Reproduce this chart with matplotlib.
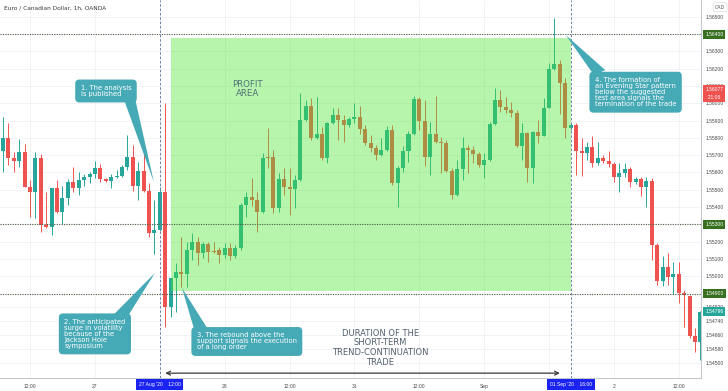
"""
EUR/CAD 1h candlestick chart with a profit zone and trade annotations.
"""
import numpy as np
import matplotlib
import matplotlib.pyplot as plt
import matplotlib.transforms as mtransforms
from matplotlib.patches import Rectangle, Polygon

plt.rcParams['font.family'] = ['DejaVu Sans']

# --- data: hourly candles, 26 Aug 2020 07:00 -> 02 Sep 2020 ---
opens = [1.55724, 1.55800, 1.55685, 1.55668, 1.55720, 1.55517, 1.55485, 1.55682, 1.55296, 1.55286,
         1.55508, 1.55373, 1.55454, 1.55546, 1.55508, 1.55556, 1.55575, 1.55591, 1.55624, 1.55562,
         1.55550, 1.55571, 1.55579, 1.55630, 1.55691, 1.55523, 1.55610, 1.55494, 1.55248, 1.55267,
         1.55488, 1.54821, 1.54988, 1.55026, 1.55013, 1.55152, 1.55199, 1.55133, 1.55186, 1.55148,
         1.55152, 1.55123, 1.55161, 1.55119, 1.55161, 1.55412, 1.55456, 1.55441, 1.55373, 1.55691,
         1.55691, 1.55392, 1.55562, 1.55517, 1.55504, 1.55556, 1.55903, 1.55984, 1.55797, 1.55820,
         1.55682, 1.55884, 1.55932, 1.55903, 1.55874, 1.55907, 1.55921, 1.55849, 1.55772, 1.55739,
         1.55701, 1.55730, 1.55845, 1.55537, 1.55624, 1.55726, 1.55820, 1.56023, 1.55899, 1.55691,
         1.55822, 1.55777, 1.55772, 1.55610, 1.55469, 1.55618, 1.55743, 1.55730, 1.55707, 1.55643,
         1.55672, 1.55878, 1.56019, 1.55980, 1.55961, 1.55942, 1.55753, 1.55829, 1.55624, 1.55835,
         1.55812, 1.55974, 1.56196, 1.56225, 1.56115, 1.55855, 1.55874, 1.55726, 1.55711, 1.55745,
         1.55653, 1.55682, 1.55668, 1.55649, 1.55575, 1.55595, 1.55618, 1.55546, 1.55562, 1.55514,
         1.55550, 1.55180, 1.54974, 1.55051, 1.54997, 1.55011, 1.54901, 1.54886, 1.54655, 1.54622]
highs = [1.55921, 1.55886, 1.55720, 1.55793, 1.55764, 1.55556, 1.55717, 1.55707, 1.55488, 1.55510,
         1.55556, 1.55521, 1.55565, 1.55633, 1.55604, 1.55590, 1.55604, 1.55666, 1.55647, 1.55568,
         1.55591, 1.55614, 1.55643, 1.55816, 1.55758, 1.55662, 1.55720, 1.55537, 1.55441, 1.55517,
         1.55999, 1.54990, 1.55078, 1.55226, 1.55199, 1.55250, 1.55229, 1.55199, 1.55199, 1.55199,
         1.55171, 1.55190, 1.55190, 1.55180, 1.55423, 1.55488, 1.55566, 1.55488, 1.55711, 1.55855,
         1.55730, 1.55595, 1.55624, 1.55624, 1.55585, 1.56061, 1.56019, 1.56029, 1.56035, 1.55864,
         1.55890, 1.55971, 1.55971, 1.55932, 1.55921, 1.56003, 1.55984, 1.55874, 1.55816, 1.55758,
         1.55797, 1.55868, 1.55874, 1.55637, 1.55753, 1.55839, 1.56042, 1.56038, 1.56019, 1.55893,
         1.56042, 1.55803, 1.55787, 1.55624, 1.55672, 1.55803, 1.55758, 1.55753, 1.55720, 1.55712,
         1.55893, 1.56086, 1.56076, 1.56035, 1.56009, 1.55961, 1.55884, 1.55835, 1.55841, 1.55903,
         1.56029, 1.56231, 1.56491, 1.56250, 1.56144, 1.55884, 1.55884, 1.55797, 1.55777, 1.55809,
         1.55777, 1.55701, 1.55726, 1.55662, 1.55653, 1.55653, 1.55633, 1.55575, 1.55575, 1.55571,
         1.55568, 1.55192, 1.55117, 1.55132, 1.55084, 1.55084, 1.54920, 1.54892, 1.54699, 1.54799]
lows = [1.55604, 1.55643, 1.55604, 1.55633, 1.55515, 1.55344, 1.55335, 1.55257, 1.55277, 1.55238,
        1.55364, 1.55302, 1.55412, 1.55488, 1.55469, 1.55521, 1.55537, 1.55568, 1.55546, 1.55546,
        1.55513, 1.55568, 1.55574, 1.55614, 1.55494, 1.55441, 1.55488, 1.55229, 1.55129, 1.55260,
        1.54705, 1.54767, 1.54795, 1.54938, 1.54939, 1.55094, 1.55065, 1.55104, 1.55084, 1.55135,
        1.55075, 1.55104, 1.55094, 1.55105, 1.55152, 1.55344, 1.55406, 1.55257, 1.55364, 1.55624,
        1.55364, 1.55373, 1.55469, 1.55354, 1.55392, 1.55550, 1.55897, 1.55787, 1.55793, 1.55672,
        1.55653, 1.55880, 1.55787, 1.55777, 1.55862, 1.55886, 1.55822, 1.55758, 1.55720, 1.55672,
        1.55695, 1.55724, 1.55530, 1.55398, 1.55604, 1.55662, 1.55816, 1.55845, 1.55637, 1.55585,
        1.55770, 1.55598, 1.55604, 1.55444, 1.55463, 1.55556, 1.55595, 1.55653, 1.55633, 1.55566,
        1.55668, 1.55874, 1.55951, 1.55944, 1.55922, 1.55749, 1.55672, 1.55546, 1.55540, 1.55768,
        1.55810, 1.55972, 1.56192, 1.55938, 1.55797, 1.55845, 1.55585, 1.55582, 1.55672, 1.55633,
        1.55643, 1.55653, 1.55633, 1.55546, 1.55488, 1.55575, 1.55517, 1.55533, 1.55463, 1.55401,
        1.55094, 1.54949, 1.54943, 1.54949, 1.54897, 1.54847, 1.54707, 1.54642, 1.54564, 1.54515]
closes = [1.55800, 1.55682, 1.55668, 1.55720, 1.55517, 1.55485, 1.55682, 1.55296, 1.55286, 1.55508,
          1.55373, 1.55454, 1.55546, 1.55508, 1.55556, 1.55575, 1.55591, 1.55624, 1.55562, 1.55550,
          1.55571, 1.55579, 1.55630, 1.55691, 1.55523, 1.55610, 1.55494, 1.55248, 1.55267, 1.55488,
          1.54821, 1.54988, 1.55026, 1.55013, 1.55152, 1.55199, 1.55133, 1.55186, 1.55142, 1.55139,
          1.55123, 1.55161, 1.55119, 1.55161, 1.55412, 1.55456, 1.55441, 1.55373, 1.55685, 1.55685,
          1.55392, 1.55562, 1.55514, 1.55504, 1.55556, 1.55903, 1.55984, 1.55797, 1.55820, 1.55682,
          1.55884, 1.55932, 1.55903, 1.55874, 1.55907, 1.55921, 1.55849, 1.55772, 1.55739, 1.55701,
          1.55730, 1.55845, 1.55537, 1.55624, 1.55726, 1.55820, 1.56023, 1.55899, 1.55691, 1.55822,
          1.55777, 1.55772, 1.55610, 1.55469, 1.55618, 1.55741, 1.55730, 1.55707, 1.55643, 1.55672,
          1.55878, 1.56019, 1.55980, 1.55961, 1.55942, 1.55753, 1.55829, 1.55624, 1.55835, 1.55812,
          1.55974, 1.56196, 1.56225, 1.56115, 1.55855, 1.55874, 1.55726, 1.55711, 1.55745, 1.55653,
          1.55682, 1.55668, 1.55649, 1.55575, 1.55595, 1.55618, 1.55546, 1.55562, 1.55514, 1.55550,
          1.55180, 1.54974, 1.55051, 1.54997, 1.55011, 1.54901, 1.54889, 1.54655, 1.54622, 1.54796]

# time axis (bar index -> label); labels under the highlighted dates are left blank
time_ticks = [5, 17, 29, 41, 53, 65, 77, 89, 101, 113, 125]
time_labels = ["12:00", "27", "", "28", "12:00", "31", "12:00", "Sep", "", "2", "12:00"]

# price axis ticks
price_ticks = [1.5450, 1.5458, 1.5466, 1.5474, 1.5482, 1.5490, 1.5500, 1.5510, 1.5520, 1.5530,
               1.5540, 1.5550, 1.5560, 1.5570, 1.5580, 1.5590, 1.5600, 1.5610, 1.5620, 1.5630,
               1.5640, 1.5650]

# levels / trade
target, entry_level, support = 1.5640, 1.5530, 1.5490
zone_bars = (31, 105)            # profit area start / end bar
zone_prices = (1.54914, 1.56377)
entry_bar, exit_bar = 29, 105
last_price = 1.54796
other_price = 1.56077

UP, DOWN = "#26a69a", "#ef5350"
CALLOUT = "#46a9b6"

o = np.array(opens); h = np.array(highs); l = np.array(lows); c = np.array(closes)
idx = np.arange(len(o))
col = np.where(c >= o, UP, DOWN)

fig = plt.figure(figsize=(7.28, 3.91), dpi=100)
fig.patch.set_facecolor("white")
ax = fig.add_axes([0, 13 / 391, 701 / 728, 378 / 391])

# grid
for p in price_ticks:
    ax.axhline(p, color="#eceff3", lw=0.5, zorder=0.5)
for t in time_ticks:
    ax.axvline(t, color="#eceff3", lw=0.5, zorder=0.5)

# candles
ax.vlines(idx, l, h, colors=col, lw=0.7, zorder=2)
body = np.maximum(np.abs(c - o), 0.00005)
ax.bar(idx, body, bottom=np.minimum(o, c), width=0.74, color=col, lw=0, zorder=2)

# profit area overlay
ax.add_patch(Rectangle((zone_bars[0], zone_prices[0]), zone_bars[1] - zone_bars[0],
                       zone_prices[1] - zone_prices[0], facecolor="#4ce632", alpha=0.4,
                       lw=0, zorder=3))

# horizontal levels and vertical markers
for lvl in (target, entry_level, support):
    ax.axhline(lvl, color="#4f5f45", lw=0.8, ls=(0, (1, 1.2)), zorder=4)
for b in (entry_bar, exit_bar):
    ax.axvline(b, color="#6f7fa8", lw=0.7, ls=(0, (2.5, 2)), zorder=4)

ax.set_xlim(-0.555, 129.1)
ax.set_ylim(1.54412, 1.56597)

ax.set_xticks(time_ticks)
ax.set_xticklabels(time_labels)
ax.set_yticks(price_ticks)
ax.set_yticklabels([f"{p:.5f}" for p in price_ticks])
ax.yaxis.tick_right()
ax.tick_params(axis="x", labelsize=3.6, length=0, pad=4, labelcolor="#4a4a4a")
ax.tick_params(axis="y", labelsize=3.6, length=0, pad=3.4, labelcolor="#4a4a4a")
for lab in ax.get_xticklabels() + ax.get_yticklabels():
    lab.set_family("Liberation Sans")
for s in ("top", "left"):
    ax.spines[s].set_visible(False)
for s in ("right", "bottom"):
    ax.spines[s].set_color("#b8bcc4")
    ax.spines[s].set_linewidth(0.6)

# axis tags on the price scale
ytrans = mtransforms.blended_transform_factory(ax.transAxes, ax.transData)
def price_tag(y, text, color):
    ax.text(1.006, y, text, transform=ytrans, ha="left", va="center", fontsize=3.6,
            family="Liberation Sans", color="white", clip_on=False, zorder=10,
            bbox=dict(boxstyle="square,pad=0.4", fc=color, ec="none"))

price_tag(target, f"{target:.5f}", "#37711f")
price_tag(entry_level, f"{entry_level:.5f}", "#37711f")
price_tag(support, f"{support:.5f}", "#37711f")
price_tag(other_price, f"{other_price:.5f}", "#ef5350")
price_tag(other_price - 0.00042, "  21:06  ", "#ef5350")
price_tag(last_price, f"{last_price:.5f}", "#26a69a")
ax.text(1.02, 0.981, "CAD", transform=ax.transAxes, ha="left", va="center", fontsize=3.4,
        color="#555555", clip_on=False,
        bbox=dict(boxstyle="round,pad=0.4,rounding_size=0.3", fc="white", ec="#d0d3d9", lw=0.4))

# highlighted time labels
xtrans = mtransforms.blended_transform_factory(ax.transData, ax.transAxes)
for b, txt in ((entry_bar, "27 Aug '20    12:00"), (exit_bar, "01 Sep '20    16:00")):
    ax.text(b, -0.0175, txt, transform=xtrans, ha="center", va="center", fontsize=3.6,
            family="Liberation Sans", color="white", clip_on=False, zorder=10,
            bbox=dict(boxstyle="square,pad=0.55", fc="#1b23f0", ec="none"))

# title
ax.text(0.006, 0.979, "Euro / Canadian Dollar, 1h, OANDA", transform=ax.transAxes,
        ha="left", va="center", fontsize=4.2, color="#3a3a3a")

# zone captions
ax.text(45.2, 1.56083, "PROFIT\nAREA", ha="center", va="center", fontsize=6.2,
        color="#4f7276", zorder=6, linespacing=1.1)
ax.text(69.8, 1.54588, "DURATION OF THE\nSHORT-TERM\nTREND-CONTINUATION\nTRADE",
        ha="center", va="center", fontsize=6.0, color="#54616f", zorder=6, linespacing=1.1)

# duration arrow
ax.annotate("", xy=(30, 1.54440), xytext=(103, 1.54440),
            arrowprops=dict(arrowstyle="<->", color="#3a3a3a", lw=0.9, shrinkA=0, shrinkB=0,
                            mutation_scale=7))

# callouts: text centre, pointer base (two points) and tip
callouts = [
    ("1. The analysis\nis published", (19.05, 1.56071),
     [(22.4, 1.56019), (24.4, 1.56031)], (27.9, 1.55545)),
    ("2. The anticipated\nsurge in volatility\nbecause of the\nJackson Hole\nsymposium",
     (17.0, 1.54667), [(20.2, 1.54770), (23.1, 1.54770)], (28.1, 1.55019)),
    ("3. The rebound above the\nsupport signals the execution\nof a long order",
     (45.1, 1.54623), [(35.4, 1.54689), (38.0, 1.54689)], (33.1, 1.54932)),
    ("4. The formation of\nan Evening Star pattern\nbelow the suggested\ntest area signals the\n"
     "termination of the trade", (117.0, 1.56064),
     [(109.3, 1.56163), (111.4, 1.56192)], (104.1, 1.56394)),
]
for txt, (cx, cy), base, tip in callouts:
    ax.add_patch(Polygon([base[0], base[1], tip], closed=True, fc=CALLOUT, ec="none", zorder=7))
    ax.text(cx, cy, txt, ha="center", va="center", multialignment="left", fontsize=4.9,
            color="white", linespacing=1.0, zorder=8,
            bbox=dict(boxstyle="round,pad=0.8,rounding_size=0.6", fc=CALLOUT, ec="none"))

fig.savefig("out.png", dpi=100)
